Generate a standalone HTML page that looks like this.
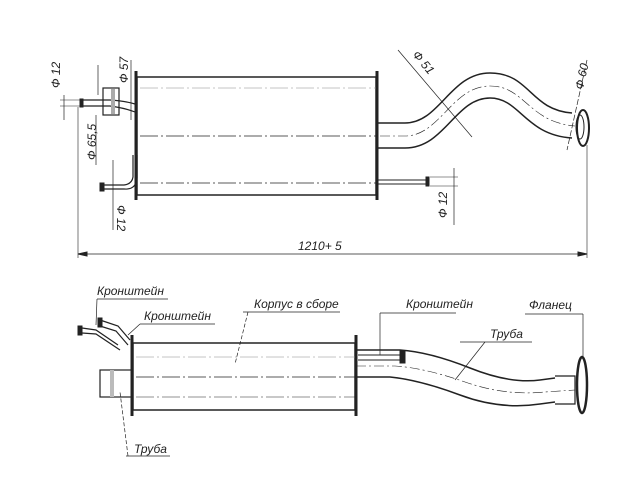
<!DOCTYPE html>
<html><head><meta charset="utf-8"><style>
html,body{margin:0;padding:0;background:#fff;width:636px;height:478px;overflow:hidden}
text{font-family:"Liberation Sans",sans-serif;font-style:italic;font-size:12px;fill:#222}
</style></head><body>
<svg width="636" height="478" viewBox="0 0 636 478" xmlns="http://www.w3.org/2000/svg">
<g stroke="#222" fill="none" stroke-width="1">
<!-- TOP VIEW -->
<rect x="137" y="77" width="239" height="118" stroke-width="1.5"/>
<line x1="136" y1="71" x2="136" y2="200" stroke-width="3"/>
<line x1="377" y1="71" x2="377" y2="200" stroke-width="3"/>
<line x1="140" y1="136" x2="376" y2="136" stroke-dasharray="18,3,2,3" stroke-width="0.7"/>
<line x1="140" y1="88" x2="376" y2="88" stroke-dasharray="18,3,2,3" stroke-width="0.5" stroke="#888"/>
<line x1="140" y1="183" x2="376" y2="183" stroke-dasharray="18,3,2,3" stroke-width="0.7"/>
<!-- S pipe -->
<path d="M377 123 L405 123 C440 123 450 73 490 73 C530 73 530 110 572 113" stroke-width="1.5"/>
<path d="M377 148 L405 148 C445 148 455 98 490 98 C520 98 525 135 572 138" stroke-width="1.5"/>
<path d="M380 136 L405 136 C440 136 452 86 490 86 C525 86 528 122 575 126" stroke-dasharray="10,3,2,3" stroke-width="0.6"/>
<ellipse cx="583" cy="128" rx="6" ry="18" stroke-width="2"/>
<ellipse cx="580" cy="127" rx="4" ry="12"/>
<!-- small pipe right -->
<line x1="377" y1="180" x2="426" y2="180"/><line x1="377" y1="184" x2="426" y2="184"/>
<rect x="426" y="177" width="3" height="9" fill="#222"/>
<!-- left brackets -->
<path d="M82 100 L110 100 Q125 101 135 104 M82 106 L110 106 Q125 108 135 112" stroke-width="1.2"/>
<rect x="80" y="99" width="3" height="8" fill="#222"/>
<rect x="103" y="88" width="16" height="27" stroke-width="1.2"/>
<rect x="111" y="89" width="4" height="25" fill="#aaa" stroke="none"/>
<path d="M133 155 L133 177 Q132 184 124 185 L104 185 M137 155 L137 178 Q136 190 124 189 L104 189" stroke-width="1.2"/>
<rect x="100" y="183" width="4" height="8" fill="#222"/>
<!-- dims -->
<line x1="64" y1="95" x2="64" y2="120" stroke-width="0.7"/>
<line x1="60" y1="100" x2="82" y2="100" stroke-width="0.6"/>
<line x1="60" y1="106" x2="82" y2="106" stroke-width="0.6"/>
<line x1="98" y1="65" x2="98" y2="95" stroke-width="0.7"/>
<line x1="131" y1="60" x2="131" y2="120" stroke-width="0.7"/>
<line x1="96" y1="115" x2="96" y2="165" stroke-width="0.7"/>
<line x1="113" y1="160" x2="113" y2="230" stroke-width="0.7"/>
<line x1="454" y1="168" x2="454" y2="225" stroke-width="0.7"/>
<line x1="430" y1="177" x2="458" y2="177" stroke-width="0.6"/>
<line x1="430" y1="186" x2="458" y2="186" stroke-width="0.6"/>
<line x1="398" y1="50" x2="472" y2="137" stroke-width="0.7"/>
<line x1="587" y1="60" x2="567" y2="150" stroke-width="0.7" stroke-dasharray="6,2"/>
<line x1="78" y1="107" x2="78" y2="258" stroke-width="0.6"/>
<line x1="587" y1="145" x2="587" y2="258" stroke-width="0.6"/>
<line x1="78" y1="254" x2="587" y2="254" stroke-width="0.7"/>
<path d="M78 254 l9 -2 v4 z M587 254 l-9 -2 v4 z" fill="#222"/>
<!-- BOTTOM VIEW -->
<rect x="133" y="343" width="222" height="67" stroke-width="1.5"/>
<line x1="132" y1="335" x2="132" y2="416" stroke-width="3"/>
<line x1="356" y1="335" x2="356" y2="416" stroke-width="3"/>
<line x1="136" y1="377" x2="355" y2="377" stroke-dasharray="18,3,2,3" stroke-width="0.7"/>
<line x1="136" y1="357" x2="355" y2="357" stroke-dasharray="18,3,2,3" stroke-width="0.5" stroke="#888"/>
<line x1="136" y1="397" x2="355" y2="397" stroke-dasharray="18,3,2,3" stroke-width="0.6"/>
<rect x="100" y="370" width="32" height="27" stroke-width="1.2"/>
<rect x="110" y="370" width="4" height="27" fill="#bbb" stroke="none"/>
<path d="M356 350 L400 350 Q430 352 470 368 Q510 384 540 380 L555 378" stroke-width="1.5"/>
<path d="M356 377 L390 377 Q420 380 460 395 Q500 410 540 404 L555 402" stroke-width="1.5"/>
<path d="M356 366 L395 366 Q425 368 465 382 Q505 396 545 392 L575 390" stroke-dasharray="10,3,2,3" stroke-width="0.6"/>
<path d="M555 376 L575 376 L575 404 L555 404" stroke-width="1.2"/>
<ellipse cx="582" cy="385" rx="5" ry="28" stroke-width="2.5"/>
<path d="M358 355 L400 355 M358 360 L400 360" stroke-width="1"/>
<rect x="400" y="351" width="5" height="12" fill="#222"/>
<path d="M82 328 L96 330 L118 345 M82 333 L96 334 L120 350 M100 320 L118 326 L130 340 M100 326 L116 331 L128 345" stroke-width="1.2"/>
<rect x="78" y="326" width="4" height="9" fill="#222"/>
<rect x="98" y="318" width="4" height="9" fill="#222"/>
<!-- leaders -->
<g stroke-width="0.7">
<line x1="97" y1="299" x2="168" y2="299"/><line x1="97" y1="299" x2="96" y2="325"/>
<line x1="140" y1="324" x2="215" y2="324"/><line x1="140" y1="324" x2="128" y2="335"/>
<line x1="243" y1="312" x2="340" y2="312"/><line x1="248" y1="312" x2="235" y2="364" stroke-dasharray="4,2"/>
<line x1="380" y1="313" x2="456" y2="313"/><line x1="380" y1="313" x2="380" y2="355"/>
<line x1="460" y1="342" x2="532" y2="342"/><line x1="485" y1="342" x2="455" y2="380"/>
<line x1="525" y1="314" x2="583" y2="314"/><line x1="583" y1="314" x2="583" y2="357"/>
<line x1="126" y1="456" x2="170" y2="456"/><line x1="128" y1="456" x2="120" y2="392" stroke-dasharray="4,2"/>
</g>
</g>
<text x="97" y="295">Кронштейн</text>
<text x="144" y="320">Кронштейн</text>
<text x="254" y="308">Корпус в сборе</text>
<text x="406" y="308">Кронштейн</text>
<text x="490" y="338">Труба</text>
<text x="529" y="309">Фланец</text>
<text x="134" y="453">Труба</text>
<text x="298" y="250">1210+ 5</text>
<text transform="translate(60,88) rotate(-90)">Ф 12</text>
<text transform="translate(128,83) rotate(-90)">Ф 57</text>
<text transform="translate(96,160) rotate(-90)">Ф 65,5</text>
<text transform="translate(117,205) rotate(90)">Ф 12</text>
<text transform="translate(447,218) rotate(-90)">Ф 12</text>
<text transform="translate(412,55) rotate(50)">Ф 51</text>
<text transform="translate(583,90) rotate(-78)">Ф 60</text>
</svg>
</body></html>
